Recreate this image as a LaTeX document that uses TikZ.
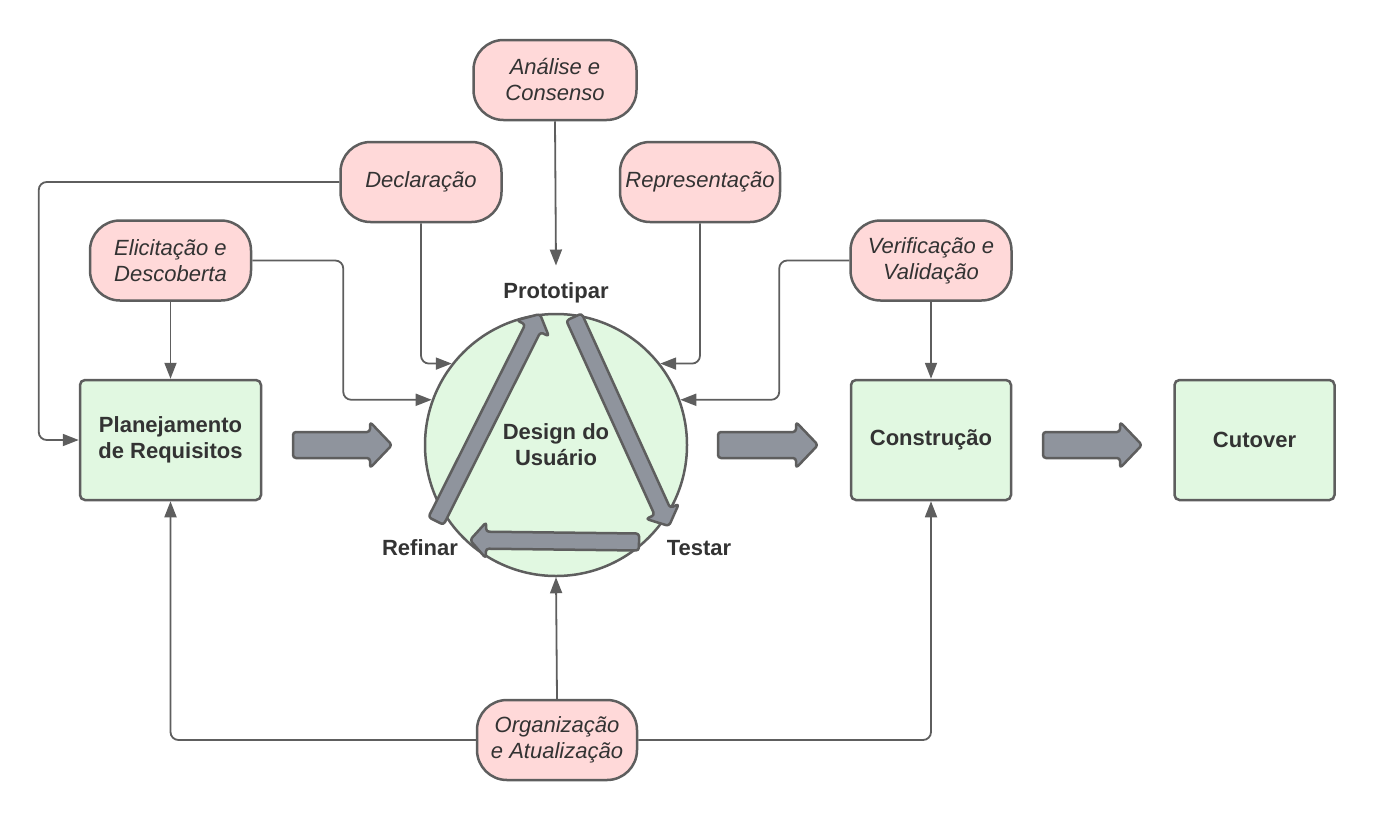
\documentclass[tikz,border=0pt]{standalone}
\usepackage{fontspec}
\setmainfont{Liberation Sans}
\usepackage{xcolor}
\definecolor{stagegreen}{HTML}{E1F8E1}
\definecolor{actpink}{HTML}{FFD9D9}
\definecolor{linegray}{HTML}{5E5E5E}
\definecolor{fatgray}{HTML}{8F949D}
\definecolor{textgray}{HTML}{333333}
\usepackage{tikz}
\usetikzlibrary{positioning,arrows.meta,calc}
\newcommand{\dfont}{\fontsize{22pt}{26pt}\selectfont}
\tikzset{
  stage/.style={rectangle, rounded corners=5pt, draw=linegray, line width=2.5pt, fill=stagegreen,
                align=center, text=textgray, font=\dfont\bfseries,
                minimum width=160pt, minimum height=120pt},
  act/.style  ={rectangle, rounded corners=30pt, draw=linegray, line width=2.5pt, fill=actpink,
                align=center, text=textgray, font=\dfont\itshape,
                minimum width=161pt, minimum height=80pt},
  hub/.style  ={circle, draw=linegray, line width=2.5pt, fill=stagegreen, align=center,
                text=textgray, font=\dfont\bfseries, minimum size=262pt},
  cyc/.style  ={text=textgray, font=\dfont\bfseries, anchor=base},
  arr/.style  ={-{Triangle[length=16pt, width=12pt]}, draw=linegray, line width=1.8pt,
                rounded corners=8pt},
  fat/.style  ={draw=linegray, line width=2.5pt, fill=fatgray, rounded corners=3pt,
                line join=round},
}
% block arrow: tail, tip, half shaft, half head, head length
\newcommand{\fatarrow}[5]{%
  \coordinate (fa-neck) at ($(#2)!#5!(#1)$);
  \draw[fat] ($(#1)!#3!90:(#2)$) -- ($(fa-neck)!#3!90:(#2)$) -- ($(fa-neck)!#4!90:(#2)$)
    -- (#2) -- ($(fa-neck)!#4!-90:(#2)$) -- ($(fa-neck)!#3!-90:(#2)$)
    -- ($(#1)!#3!-90:(#2)$) -- cycle;}

\begin{document}
\begin{tikzpicture}[x=1pt, y=-1pt]
  \useasboundingbox (0,0) rectangle (1377,820);
  % stages
  \node[stage, minimum width=181pt] (plan) at (170.5,440) {Planejamento\\de Requisitos};
  \node[hub] (design) at (556,445) {Design do\\Usuário};
  \node[stage] (cons) at (931,440) {Construção};
  \node[stage, right=161pt of cons] (cut) {Cutover};
  % activities
  \node[act, above=77pt of plan] (elic) {Elicitação e\\Descoberta};
  \node[act] (decl) at (421,182) {Declaração};
  \node[act, minimum width=163pt] (anal) at (555,80) {Análise e\\Consenso};
  \node[act, minimum width=160pt] (repr) at (700,182) {Representação};
  \node[act, above=77pt of cons] (veri) {Verificação e\\Validação};
  \node[act, minimum width=160pt] (orga) at (557,740) {Organização\\e Atualização};
  % cycle labels
  \node[cyc] (proto) at (556,298) {Prototipar};
  \node[cyc] (refi) at (420,555) {Refinar};
  \node[cyc] (test) at (699,555) {Testar};
  % connectors
  \draw[arr] (decl.west) -| ([xshift=-40pt]plan.west) -- (plan.west);
  \draw[arr] (decl.south) |- (design.142);
  \draw[arr] (elic.east) -- ++(91,0) |- (design.160);
  \draw[arr] (elic.south) -- (plan.north);
  \draw[arr] (anal.south) -- ([yshift=13pt]proto.north);
  \draw[arr] (repr.south) |- (design.38);
  \draw[arr] (veri.west) -- ++(-70,0) |- (design.20);
  \draw[arr] (veri.south) -- (cons.north);
  \draw[arr] (orga.north) -- (design.south);
  \draw[arr] (orga.west) -| (plan.south);
  \draw[arr] (orga.east) -| (cons.south);
  % block arrows
  \fatarrow{293,445}{392,445}{13pt}{23pt}{22pt}
  \fatarrow{718,445}{818,445}{13pt}{23pt}{22pt}
  \fatarrow{1043,445}{1142,445}{13pt}{23pt}{22pt}
  \fatarrow{436,521}{540,314}{8.5pt}{18pt}{16pt}
  \fatarrow{574,317}{669,526}{8.5pt}{18pt}{16pt}
  \fatarrow{639,542}{470,540}{8.5pt}{18pt}{16pt}
\end{tikzpicture}
\end{document}
